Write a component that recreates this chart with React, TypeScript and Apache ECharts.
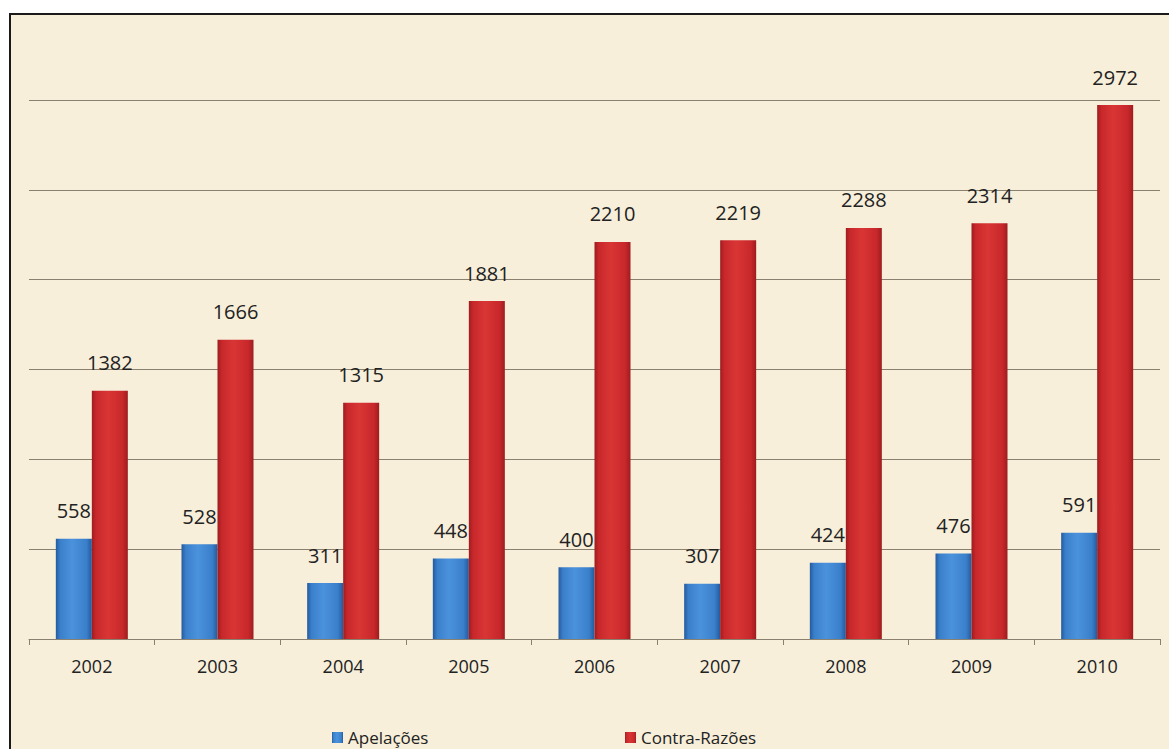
import React, { useEffect, useRef } from "react";
import * as echarts from "echarts";

const years = ["2002", "2003", "2004", "2005", "2006", "2007", "2008", "2009", "2010"];
const apelacoes = [558, 528, 311, 448, 400, 307, 424, 476, 591];
const contraRazoes = [1382, 1666, 1315, 1881, 2210, 2219, 2288, 2314, 2972];
const seriesNames = ["Apelações", "Contra-Razões"];

const FONT = "'Open Sans', 'Noto Sans', sans-serif";

function hGrad(edge: string, mid: string, light: string) {
  return new echarts.graphic.LinearGradient(0, 0, 1, 0, [
    { offset: 0, color: edge },
    { offset: 0.12, color: mid },
    { offset: 0.45, color: light },
    { offset: 0.85, color: mid },
    { offset: 1, color: edge },
  ]);
}

export default function App() {
  const ref = useRef<HTMLDivElement>(null);
  useEffect(() => {
    if (!ref.current) return;
    const chart = echarts.init(ref.current, null, { renderer: "svg" });
    const blue = hGrad("#245a9e", "#3a7fca", "#4b92dc");
    const red = hGrad("#9e1c1f", "#c8282b", "#d93535");
    const legendText = { fontFamily: FONT, fontSize: 17, color: "#222" };
    chart.setOption({
      animation: false,
      backgroundColor: "#ffffff",
      graphic: [
        {
          type: "rect",
          z: -10,
          silent: true,
          shape: { x: 10, y: 14, width: 1170, height: 750 },
          style: { fill: "#f7efda", stroke: "#1a1a1a", lineWidth: 2 },
        },
      ],
      grid: { left: 29, right: 9, top: 100, bottom: 110 },
      legend: [
        {
          data: [{ name: seriesNames[0], icon: "rect" }],
          left: 327,
          top: 724,
          itemWidth: 11,
          itemHeight: 11,
          textStyle: legendText,
        },
        {
          data: [{ name: seriesNames[1], icon: "rect" }],
          left: 620,
          top: 724,
          itemWidth: 11,
          itemHeight: 11,
          textStyle: legendText,
        },
      ],
      xAxis: {
        type: "category",
        data: years,
        axisLine: { lineStyle: { color: "#8a8070", width: 1 } },
        axisTick: { show: true, length: 6, lineStyle: { color: "#8a8070" } },
        axisLabel: { fontFamily: FONT, fontSize: 18, color: "#222", margin: 18 },
      },
      yAxis: {
        type: "value",
        min: 0,
        max: 3000,
        interval: 500,
        axisLabel: { show: false },
        axisLine: { show: false },
        axisTick: { show: false },
        splitLine: { lineStyle: { color: "#8a8070", width: 1 } },
      },
      series: [
        {
          name: seriesNames[0],
          type: "bar",
          data: apelacoes,
          barWidth: 36,
          barGap: "0%",
          itemStyle: { color: blue },
          label: {
            show: true,
            position: "top",
            distance: 18,
            fontFamily: FONT,
            fontSize: 20,
            color: "#222",
          },
        },
        {
          name: seriesNames[1],
          type: "bar",
          data: contraRazoes,
          barWidth: 36,
          barGap: "0%",
          itemStyle: { color: red },
          label: {
            show: true,
            position: "top",
            distance: 18,
            fontFamily: FONT,
            fontSize: 20,
            color: "#222",
          },
        },
      ],
    });
    return () => chart.dispose();
  }, []);
  return (
    <div
      ref={ref}
      style={{ position: "fixed", left: 0, top: 0, width: 1169, height: 749 }}
    />
  );
}
